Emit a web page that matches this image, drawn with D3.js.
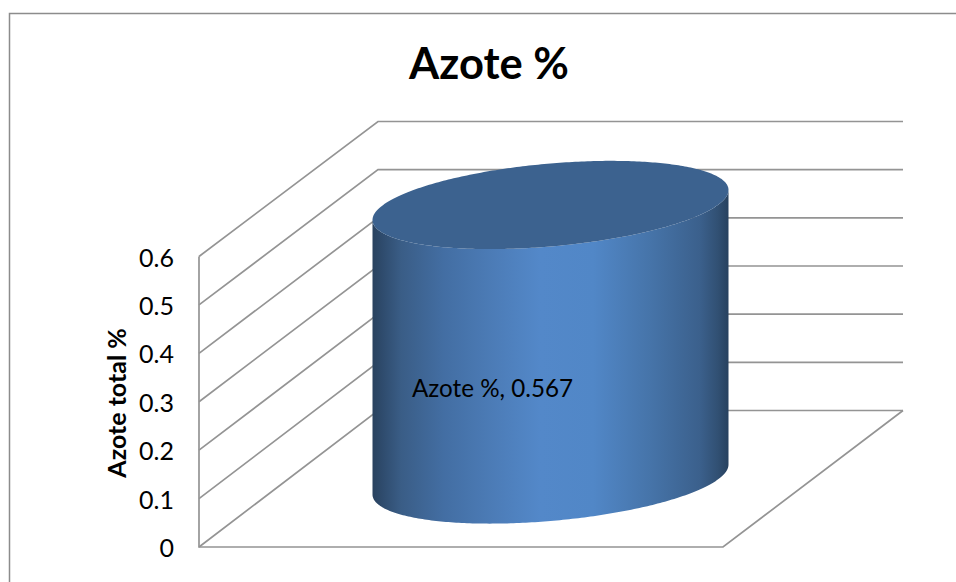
<!DOCTYPE html>
<html><head><meta charset="utf-8">
<script src="https://cdn.jsdelivr.net/npm/d3@7"></script>
<style>html,body{margin:0;padding:0;background:#fff}svg{display:block}text{font-family:Lato,"Open Sans",sans-serif;fill:#000}</style>
</head><body><svg id="c" width="956" height="582"></svg>
<script>
const titleText = "Azote %";
const axisTitle = "Azote total %";
const categories = ["Azote %"];
const values = [0.567];
const ticks = [0, 0.1, 0.2, 0.3, 0.4, 0.5, 0.6];
const tickLabels = ["0", "0.1", "0.2", "0.3", "0.4", "0.5", "0.6"];

const svg = d3.select("#c");
const gray = "#949494";
const yFront = d3.scaleLinear().domain([0, 0.6]).range([547, 256.5]);
const yBack = d3.scaleLinear().domain([0, 0.6]).range([410.5, 121.5]);
const xFront = 199, xBack = 378, xRight = 903, xFrontRight = 723;

// chart frame
svg.append("path").attr("d", "M9.5,582V13.5H956").attr("fill", "none").attr("stroke", "#8c8c8c").attr("stroke-width", 1.5);

// title
svg.append("text").attr("x", 489).attr("y", 79).attr("text-anchor", "middle")
  .attr("font-size", 43.5).attr("font-weight", 700).text(titleText);

// walls and grid
const grid = svg.append("g").attr("fill", "none").attr("stroke", gray).attr("stroke-width", 1.7);
grid.selectAll("path.g").data(ticks).join("path").attr("class", "g")
  .attr("d", t => `M${xFront},${yFront(t)}L${xBack},${yBack(t)}L${xRight},${yBack(t)}`);
grid.append("path").attr("d", `M${xFront},${yFront(0.6)}V${yFront(0)}H${xFrontRight}L${xRight},${yBack(0)}`);

// tick labels
svg.selectAll("text.tick").data(ticks).join("text").attr("class", "tick")
  .attr("x", 174).attr("y", t => yFront(t) + 10).attr("text-anchor", "end")
  .attr("font-size", 25).text((t, i) => tickLabels[i]);

// axis title
svg.append("text").attr("transform", "translate(126,403) rotate(-90)").attr("text-anchor", "middle")
  .attr("font-size", 25).attr("font-weight", 700).text(axisTitle);

// cylinder
const defs = svg.append("defs");
const grad = defs.append("linearGradient").attr("id", "side").attr("x1", 0).attr("x2", 1).attr("y1", 0).attr("y2", 0);
[[0, "#29425f"], [0.03, "#2f4c6e"], [0.08, "#3a5d86"], [0.2, "#436ea3"], [0.34, "#4c7cb7"], [0.47, "#5388c9"], [0.62, "#5187c7"], [0.78, "#4674a9"], [0.92, "#3b608c"], [0.97, "#315073"], [1, "#27415f"]]
  .forEach(s => grad.append("stop").attr("offset", s[0]).attr("stop-color", s[1]));

const cx = 550.5, a = 178, b = 41.5, shear = -15 / 178;
const cyBase = 479.5;
const yBar = d3.scaleLinear().domain([0, 0.6]).range([cyBase, cyBase - (yFront(0) - yFront(0.6))]);
const pt = (th, cy) => [cx + a * Math.cos(th), cy + b * Math.sin(th) + shear * a * Math.cos(th)];
const line = d3.line();
const angles = d3.range(0, 181).map(d => d * Math.PI / 180);

const g = svg.append("g");
g.selectAll("path.body").data(values).join("path").attr("class", "body")
  .attr("d", v => {
    const front = angles.map(th => pt(th, yBar(0)));
    const topFront = angles.map(th => pt(th, yBar(v))).reverse();
    return line(front.concat(topFront)) + "Z";
  }).attr("fill", "url(#side)");
g.selectAll("path.top").data(values).join("path").attr("class", "top")
  .attr("d", v => line(d3.range(0, 361).map(d => pt(d * Math.PI / 180, yBar(v)))) + "Z")
  .attr("fill", "#3c628f");

// data label
svg.selectAll("text.lab").data(values).join("text").attr("class", "lab")
  .attr("x", 412).attr("y", 397).attr("font-size", 24.2)
  .text((v, i) => `${categories[i]}, ${v}`);
</script></body></html>
